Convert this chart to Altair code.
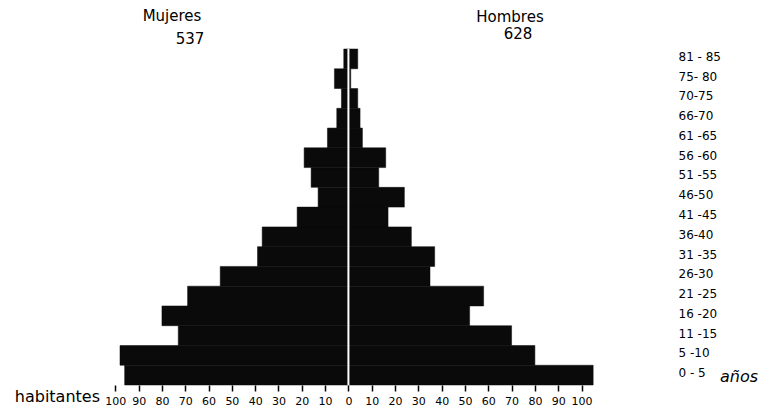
import altair as alt
import pandas as pd

# Age groups, bottom (youngest) to top (oldest), labels as lettered in the original
ages = ["0 - 5", "5 -10", "11 -15", "16 -20", "21 -25", "26-30", "31 -35", "36-40",
        "41 -45", "46-50", "51 -55", "56 -60", "61 -65", "66-70", "70-75", "75- 80", "81 - 85"]
mujeres = [96, 98, 73, 80, 69, 55, 39, 37, 22, 13, 16, 19, 9, 5, 3, 6, 2]
hombres = [105, 80, 70, 52, 58, 35, 37, 27, 17, 24, 13, 16, 6, 5, 4, 1, 4]
x_ticks = list(range(-100, 101, 10))
total_mujeres = "537"
total_hombres = "628"

rows = []
for a, m, h in zip(ages, mujeres, hombres):
    rows.append({"edad": a, "sexo": "Mujeres", "valor": -m})
    rows.append({"edad": a, "sexo": "Hombres", "valor": h})
df = pd.DataFrame(rows)

W, H = 479, 336
FONT = "DejaVu Sans"

xscale = alt.Scale(domain=[-101, 104.5], nice=False, zero=False)
yscale = alt.Scale(domain=list(reversed(ages)), paddingInner=0, paddingOuter=0)
x_axis = alt.Axis(values=x_ticks, labelExpr="abs(datum.value)", title=None,
                  domain=False, grid=False, tickColor="black", tickSize=6,
                  tickWidth=1.5, labelFontSize=11, labelPadding=4, labelFont=FONT,
                  labelColor="black", labelOverlap=False, labelFlush=False)

bars = alt.Chart(df).mark_bar(color="#0a0a0a", stroke="#0a0a0a", strokeWidth=0.5).encode(
    x=alt.X("valor:Q", scale=xscale, axis=x_axis),
    y=alt.Y("edad:N", scale=yscale, sort=list(reversed(ages)),
            axis=alt.Axis(orient="right", title=None, domain=False, ticks=False,
                          labelPadding=86, labelAlign="left", labelFontSize=12,
                          labelFont=FONT, labelColor="black", labelOffset=-2)),
)

center = alt.Chart(df).transform_aggregate(n="count()").transform_calculate(cero="0").mark_rule(
    color="white", strokeWidth=2).encode(x=alt.X("cero:Q", scale=xscale, axis=x_axis))

one = pd.DataFrame({"k": [0]})

def txt(s, x, y, size=15, align="center", **kw):
    return alt.Chart(one).mark_text(text=s, fontSize=size, font=FONT, color="black",
                                   align=align, **kw).encode(x=x, y=y)

labels = [
    txt("Mujeres", alt.value(59), alt.value(-28), baseline="alphabetic"),
    txt(total_mujeres, alt.value(77), alt.value(-5), baseline="alphabetic"),
    txt("Hombres", alt.value(397), alt.value(-27), baseline="alphabetic"),
    txt(total_hombres, alt.value(405), alt.value(-10), baseline="alphabetic"),
    txt("habitantes", alt.value(-13), alt.value(H + 12), size=16, align="right", baseline="middle"),
    txt("años", alt.value(W + 86 + 42), alt.value(H - 8), size=16, align="left",
        baseline="middle", fontStyle="italic"),
]

chart = alt.layer(bars, center, *labels).properties(
    width=W, height=H,
    padding={"left": 105, "top": 41, "right": 169, "bottom": 22},
    autosize=alt.AutoSizeParams(type="none"),
).configure_view(stroke=None)

chart.save("out.html", embed_options={"renderer": "svg", "actions": False})
